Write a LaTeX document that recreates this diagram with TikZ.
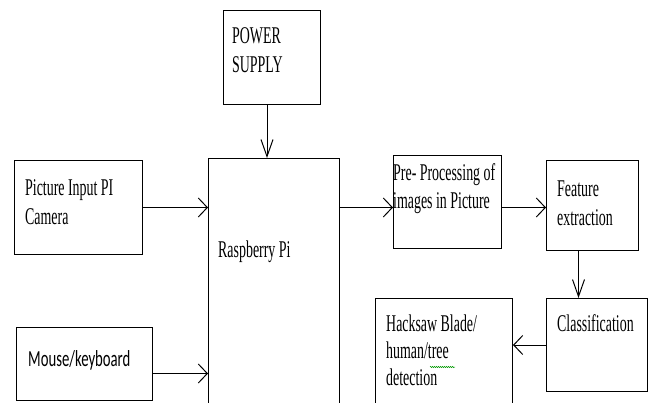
\documentclass[tikz,border=0pt]{standalone}
\usepackage{fontspec}
\setmainfont[FakeStretch=0.58]{Liberation Serif}
\newfontfamily\mousefont[FakeStretch=0.64]{Carlito}
\usetikzlibrary{arrows.meta,decorations.pathmorphing}
\tikzset{
  blk/.style={draw, line width=1pt, anchor=north west, inner sep=0pt},
  txt/.style={anchor=west, inner sep=0pt, align=left, font=\fontsize{24}{29}\selectfont},
  harr/.style={line width=1pt, -{Straight Barb[length=9pt,width=19pt]}},
  varr/.style={line width=1pt, -{Straight Barb[length=17pt,width=12pt]}},
}
\begin{document}
\begin{tikzpicture}[x=1pt, y=-1pt]
  \clip (0,0) rectangle (652,403);
  \fill[white] (0,0) rectangle (652,403);
  % blocks
  \node[blk, minimum width=97pt, minimum height=94pt] (pwr) at (223,10) {};
  \node[blk, minimum width=131pt, minimum height=262pt] (rpi) at (208,158) {};
  \node[blk, minimum width=128pt, minimum height=94pt] (cam) at (14,160) {};
  \node[blk, minimum width=136pt, minimum height=73pt] (mouse) at (16,327) {};
  \node[blk, minimum width=108pt, minimum height=93pt] (pre) at (393,155) {};
  \node[blk, minimum width=92pt, minimum height=90pt] (feat) at (546,160) {};
  \node[blk, minimum width=101pt, minimum height=93pt] (cls) at (546,298) {};
  \node[blk, minimum width=137pt, minimum height=122pt] (hack) at (375,298) {};
  % texts
  \node[txt] (pwrtxt) at (232,50) {POWER\\SUPPLY};
  \node[txt] (rpitxt) at (218,252) {Raspberry Pi};
  \node[txt] (camtxt) at (25,202.5) {Picture Input PI\\Camera};
  \node[txt, font=\fontsize{23}{28}\mousefont] (mousetxt) at (28,360) {Mouse/keyboard};
  \node[txt, font=\fontsize{24}{28}\selectfont] (pretxt) at (393,189) {Pre- Processing of\\images in Picture};
  \node[txt] (feattxt) at (557,203.5) {Feature\\extraction};
  \node[txt] (clstxt) at (557,323) {Classification};
  \node[txt, font=\fontsize{24}{27}\selectfont] (hacktxt) at (386,350) {Hacksaw Blade/\\human/tree\\detection};
  \draw[green!60!black, line width=0.5pt, decorate,
    decoration={snake, amplitude=0.7pt, segment length=2pt}] (430,367) -- (455,367);
  % arrows
  \draw[varr] ([xshift=-5pt]pwr.south) -- ([xshift=-5pt]pwr.south |- rpi.north);
  \draw[harr] (cam.east) -- (cam.east -| rpi.west);
  \draw[harr] ([yshift=-9.5pt]mouse.east) -- ([yshift=-9.5pt]mouse.east -| rpi.west);
  \draw[harr] (cam.east -| rpi.east) -- (cam.east -| pre.west);
  \draw[harr] (cam.east -| pre.east) -- (cam.east -| feat.west);
  \draw[varr] ([xshift=-14pt]feat.south) -- ([xshift=-14pt]feat.south |- cls.north);
  \draw[harr] (cls.west) -- (cls.west -| hack.east);
\end{tikzpicture}
\end{document}
